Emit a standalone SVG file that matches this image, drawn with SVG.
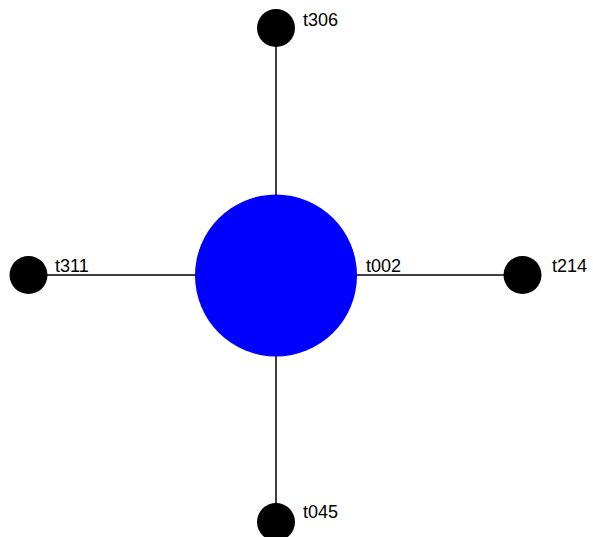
<svg xmlns="http://www.w3.org/2000/svg" width="593" height="537" viewBox="0 0 593 537">
  <style>
    .edge { stroke: #000; stroke-width: 1.5; }
    .leaf { fill: #000; }
    .hub { fill: #0000ff; }
    .label { font-family: "Liberation Sans", Arial, sans-serif; font-size: 18px; fill: #000; }
  </style>
  <rect width="593" height="537" fill="#fff"/>
  <g id="connectors">
    <line class="edge" x1="276" y1="275" x2="276" y2="28"/>
    <line class="edge" x1="276" y1="275" x2="29" y2="275"/>
    <line class="edge" x1="276" y1="275" x2="523" y2="275"/>
    <line class="edge" x1="276" y1="275" x2="276" y2="522"/>
  </g>
  <g id="t002">
    <circle class="hub" cx="276" cy="275.5" r="81"/>
    <text class="label" x="366" y="272">t002</text>
  </g>
  <g id="t306">
    <circle class="leaf" cx="276" cy="28" r="19"/>
    <text class="label" x="303" y="26">t306</text>
  </g>
  <g id="t311">
    <circle class="leaf" cx="28.5" cy="275" r="19"/>
    <text class="label" x="55" y="272">t311</text>
  </g>
  <g id="t214">
    <circle class="leaf" cx="522.5" cy="275" r="19"/>
    <text class="label" x="552" y="272">t214</text>
  </g>
  <g id="t045">
    <circle class="leaf" cx="276" cy="522" r="19"/>
    <text class="label" x="303" y="518">t045</text>
  </g>
</svg>
